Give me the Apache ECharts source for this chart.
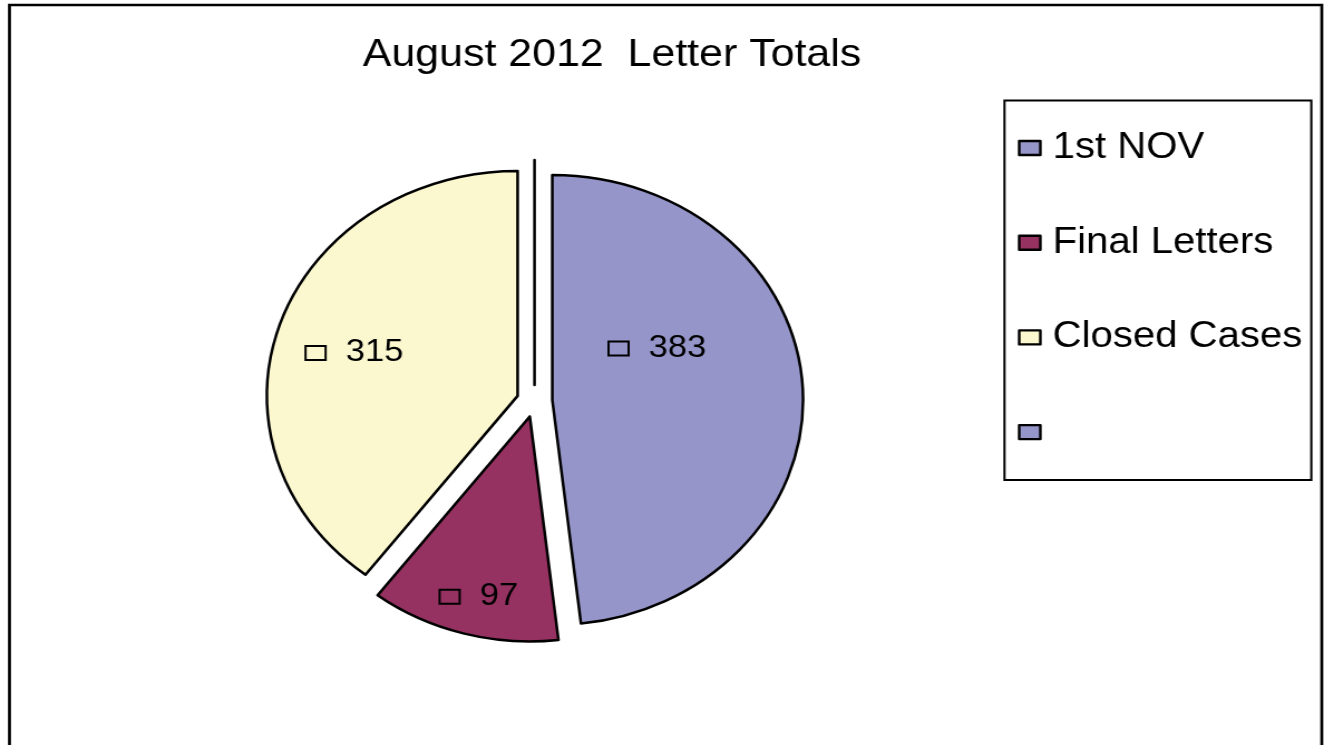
<!DOCTYPE html>
<html>
<head>
<meta charset="utf-8">
<script src="https://cdn.jsdelivr.net/npm/echarts@6/dist/echarts.min.js"></script>
<style>
html,body{margin:0;padding:0;background:#fff;overflow:hidden;width:1324px;height:745px;}
#chart{width:1188px;height:745px;transform:scaleX(1.11448);transform-origin:0 0;}
</style>
</head>
<body>
<div id="chart"></div>
<script>
// ---- data ----
var titleText = 'August 2012  Letter Totals';
var categories = ['1st NOV', 'Final Letters', 'Closed Cases', ' '];
var values = [383, 97, 315, 0];
var colors = ['#9595C9', '#953262', '#FBF8CF', '#9595C9'];
// label nudges (style: where Excel placed the data labels relative to ECharts' inside position)
var labelNudge = [[-21, -45], [-15, 69], [-37, -6], [0, 0]];

var chart = echarts.init(document.getElementById('chart'), null, {renderer: 'canvas'});
var font = 'Liberation Sans, Arial, sans-serif';

var pieData = categories.map(function (name, i) {
  var item = {
    name: name,
    value: values[i],
    selected: true,
    itemStyle: {color: colors[i]}
  };
  if (values[i] === 0) {
    item.label = {show: false};
  }
  return item;
});

chart.setOption({
  animation: false,
  backgroundColor: '#fff',
  title: {
    text: titleText,
    left: 320.5,
    top: 31,
    padding: 5,
    textStyle: {fontFamily: font, fontSize: 38.5, fontWeight: 'normal', color: '#000', lineHeight: 38}
  },
  legend: {
    orient: 'vertical',
    left: 901.3,
    top: 100.5,
    padding: [27, 8, 27.5, 12],
    borderColor: '#000',
    borderWidth: 2,
    backgroundColor: '#fff',
    itemWidth: 19,
    itemHeight: 14,
    itemGap: 53.7,
    icon: 'rect',
    selectedMode: false,
    itemStyle: {borderColor: '#000', borderWidth: 2.4},
    textStyle: {fontFamily: font, fontSize: 36, color: '#000', lineHeight: 36, padding: [5, 0, 0, 6]},
    data: categories
  },
  graphic: [{
    type: 'rect',
    silent: true,
    shape: {x: 8.5, y: 5, width: 1177.5, height: 800},
    style: {fill: 'none', stroke: '#000', lineWidth: 2.7},
    z: -1
  }],
  series: [{
    type: 'pie',
    center: [479.6, 401],
    radius: 225,
    startAngle: 90,
    clockwise: true,
    selectedMode: 'multiple',
    selectedOffset: 16,
    avoidLabelOverlap: false,
    emphasis: {disabled: true},
    itemStyle: {borderColor: '#000', borderWidth: 2.5},
    select: {itemStyle: {borderColor: '#000', borderWidth: 2.5}},
    label: {
      show: true,
      position: 'inside',
      formatter: function (p) { return '{sq| }{v|' + p.value + '}'; },
      rich: {
        sq: {width: 18, height: 14, borderColor: '#000', borderWidth: 2, verticalAlign: 'middle', lineHeight: 31},
        v: {fontFamily: font, fontSize: 31, color: '#000', padding: [0, 0, 0, 18], lineHeight: 31, verticalAlign: 'middle'}
      }
    },
    labelLine: {show: false},
    labelLayout: function (params) {
      var n = labelNudge[params.dataIndex] || [0, 0];
      return {dx: n[0], dy: n[1]};
    },
    data: pieData
  }]
});
</script>
</body>
</html>
